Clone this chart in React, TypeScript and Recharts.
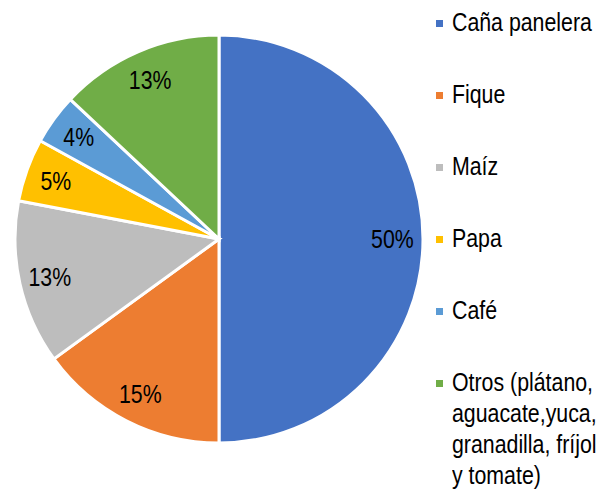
import React from "react";
import { PieChart, Pie, Cell, Legend } from "recharts";

const categories = [
  "Caña panelera",
  "Fique",
  "Maíz",
  "Papa",
  "Café",
  "Otros (plátano,\naguacate,yuca,\ngranadilla, fríjol\ny tomate)",
];
const shares = [50, 15, 13, 5, 4, 13];
const colors = ["#4472C4", "#ED7D31", "#BDBDBD", "#FFC000", "#5B9BD5", "#70AD47"];

const data = categories.map((name, i) => ({ name, value: shares[i] }));

// no Arial Narrow installed, so squeeze Liberation Sans horizontally
const FONT = '"Liberation Sans", Arial, sans-serif';
const SQUEEZE = 0.82;
const RAD = Math.PI / 180;

function renderLabel(props: any) {
  const { cx, cy, midAngle, outerRadius, value } = props;
  const r = outerRadius * 0.85;
  const x = cx + r * Math.cos(-midAngle * RAD);
  const y = cy + r * Math.sin(-midAngle * RAD);
  return (
    <text
      x={0}
      y={0}
      transform={`translate(${x},${y}) scale(${SQUEEZE},1)`}
      fill="#000"
      fontSize={26}
      fontFamily={FONT}
      textAnchor="middle"
      dominantBaseline="central"
    >
      {`${value}%`}
    </text>
  );
}

function LegendBox() {
  return (
    <div style={{ fontFamily: FONT, fontSize: 26, lineHeight: "31px", color: "#000" }}>
      {data.map((d, i) => (
        <div key={d.name} style={{ display: "flex", alignItems: "flex-start", height: 72 }}>
          <span
            style={{
              display: "inline-block",
              width: 7,
              height: 7,
              marginTop: 13,
              marginRight: 9,
              background: colors[i],
              flexShrink: 0,
            }}
          />
          <span
            style={{
              whiteSpace: "pre",
              display: "inline-block",
              transform: `scaleX(${SQUEEZE})`,
              transformOrigin: "left top",
            }}
          >
            {d.name}
          </span>
        </div>
      ))}
    </div>
  );
}

export default function App() {
  return (
    <div style={{ position: "absolute", left: 0, top: 0, width: 609, height: 494, background: "#fff" }}>
      <PieChart width={609} height={494} margin={{ top: 0, right: 0, bottom: 0, left: 0 }}>
        <Pie
          data={data}
          dataKey="value"
          nameKey="name"
          cx={219}
          cy={239}
          outerRadius={204}
          startAngle={90}
          endAngle={-270}
          stroke="#fff"
          strokeWidth={3}
          label={renderLabel}
          labelLine={false}
          isAnimationActive={false}
        >
          {data.map((d, i) => (
            <Cell key={d.name} fill={colors[i]} />
          ))}
        </Pie>
        <Legend
          layout="vertical"
          align="right"
          verticalAlign="top"
          content={() => <LegendBox />}
          wrapperStyle={{ left: 436, top: 7, width: 173 }}
        />
      </PieChart>
    </div>
  );
}
